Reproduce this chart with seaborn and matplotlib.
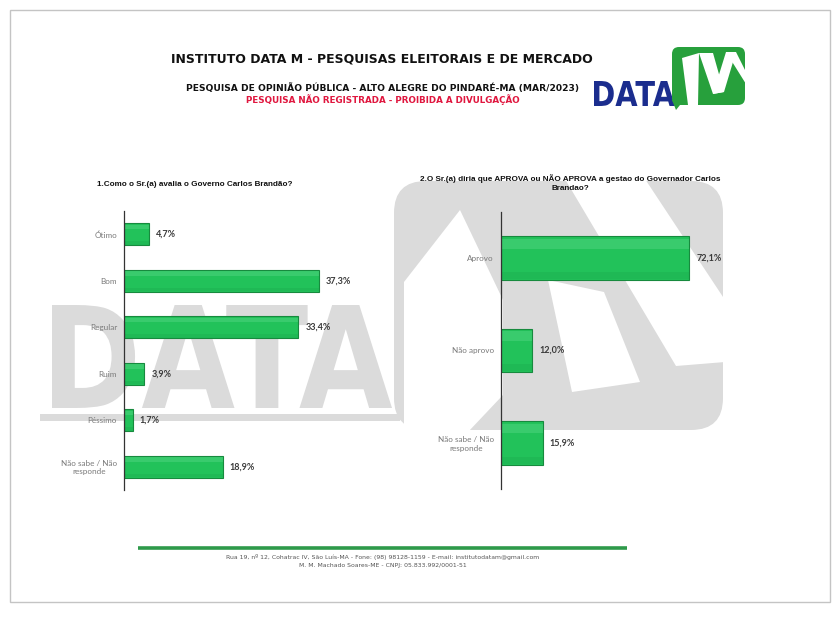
# Pesquisa Data M - Alto Alegre do Pindaré (mar/2023)
# two horizontal bar charts on one report page

import numpy as np
import pandas as pd
import matplotlib
matplotlib.use('Agg')
import matplotlib.pyplot as plt
from matplotlib.patches import Rectangle, FancyBboxPatch, Polygon, PathPatch
from matplotlib.textpath import TextPath
from matplotlib.font_manager import FontProperties
from matplotlib.transforms import Affine2D
import seaborn as sns

# data
q1_categorias = ['Ótimo', 'Bom', 'Regular', 'Ruim', 'Péssimo', 'Não sabe / Não\nresponde']
q1_valores = [4.7, 37.3, 33.4, 3.9, 1.7, 18.9]

q2_categorias = ['Aprovo', 'Não aprovo', 'Não sabe / Não\nresponde']
q2_valores = [72.1, 12.0, 15.9]

titulo1 = 'INSTITUTO DATA M - PESQUISAS ELEITORAIS E DE MERCADO'
titulo2 = 'PESQUISA DE OPINIÃO PÚBLICA - ALTO ALEGRE DO PINDARÉ-MA (MAR/2023)'
titulo3 = 'PESQUISA NÃO REGISTRADA - PROIBIDA A DIVULGAÇÃO'
pergunta1 = '1.Como o Sr.(a) avalia o Governo Carlos Brandão?'
pergunta2 = '2.O Sr.(a) diria que APROVA ou NÃO APROVA a gestao do Governador Carlos\nBrandao?'
rodape = ('Rua 19, nº 12, Cohatrac IV, São Luís-MA - Fone: (98) 98128-1159 - E-mail: institutodatam@gmail.com\n'
          'M. M. Machado Soares-ME - CNPJ: 05.833.992/0001-51')

VERDE = '#22c25a'
VERDE_CLARO = '#6fe09a'
VERDE_ESCURO = '#1aa94d'
VERDE_BORDA = '#178a3e'
CINZA_MARCA = '#dbdbdb'

sns.set_theme(style='white')
plt.rcParams['font.family'] = ['DejaVu Sans']

W, H = 840, 618
fig = plt.figure(figsize=(8.4, 6.18), dpi=100)
fig.patch.set_facecolor('white')

# background axes in pixel coords (y down) for the page decoration
bg = fig.add_axes([0, 0, 1, 1], zorder=0)
bg.set_xlim(0, W)
bg.set_ylim(H, 0)
bg.axis('off')


def fit_text(ax, s, x0, y0, x1, y1, color, weight='bold', family='DejaVu Sans'):
    # text path stretched into a pixel box
    tp = TextPath((0, 0), s, size=100, prop=FontProperties(family=family, weight=weight))
    bb = tp.get_extents()
    sx = (x1 - x0) / bb.width
    sy = (y1 - y0) / bb.height
    tr = Affine2D().translate(-bb.x0, -bb.y0).scale(sx, -sy).translate(x0, y1)
    ax.add_patch(PathPatch(tr.transform_path(tp), facecolor=color, edgecolor='none'))


def branco(pts):
    bg.add_patch(Polygon(pts, facecolor='white', edgecolor='none'))


# page border
bg.add_patch(Rectangle((10, 10), 820, 592, fill=False, edgecolor='#c4c4c4', lw=1))

# watermark: big grey DATA + M block
fit_text(bg, 'DATA', 52, 305, 392, 408, CINZA_MARCA)
bg.add_patch(Rectangle((40, 414), 360, 7, facecolor=CINZA_MARCA, edgecolor='none'))
bg.add_patch(FancyBboxPatch((394, 181), 329, 249, boxstyle='round,pad=0,rounding_size=32',
                            facecolor=CINZA_MARCA, edgecolor='none'))
branco([(404, 282), (460, 210), (503, 300), (503, 395), (468, 432), (404, 432)])
branco([(565, 179), (645, 179), (725, 300), (725, 362), (676, 366)])
branco([(548, 280), (604, 292), (640, 382), (572, 392)])

# header
bg.text(382, 59, titulo1, ha='center', va='center', fontsize=9, fontweight='bold', color='#111111')
bg.text(382, 88, titulo2, ha='center', va='center', fontsize=6.6, fontweight='bold', color='#111111')
bg.text(383, 100, titulo3, ha='center', va='center', fontsize=6.3, fontweight='bold', color='#e0173f')

# logo
fit_text(bg, 'DATA', 594, 81, 675, 106, '#1b2d8e')
bg.add_patch(FancyBboxPatch((672, 47), 73, 58, boxstyle='round,pad=0,rounding_size=7',
                            facecolor='#27a03c', edgecolor='none'))
bg.add_patch(Polygon([(672, 100), (684, 100), (676, 110)], facecolor='#27a03c', edgecolor='none'))
branco([(682, 58), (699, 53), (698, 105), (688, 105)])
branco([(699, 53), (713, 53), (724, 92), (713, 94)])
branco([(713, 94), (724, 92), (736, 52), (726, 52)])
branco([(726, 52), (736, 52), (746, 72), (746, 84)])

# footer
bg.plot([138, 627], [548, 548], color='#2e9a4a', lw=2.6, solid_capstyle='butt')
bg.text(383, 561, rodape, ha='center', va='center', fontsize=4.4, color='#555555', linespacing=1.5)


def grafico(rect, categorias, valores, xmax, titulo, titulo_xy):
    ax = fig.add_axes(rect, zorder=2)
    ax.patch.set_alpha(0)
    df = pd.DataFrame({'cat': categorias, 'val': valores})
    sns.barplot(data=df, x='val', y='cat', orient='h', ax=ax, color=VERDE,
                edgecolor=VERDE_BORDA, linewidth=0.8, width=0.47, saturation=1)
    # soft gloss: light strip on top, slightly darker at the bottom of each bar
    for p in list(ax.patches):
        x0, y0, w, h = p.get_x(), p.get_y(), p.get_width(), p.get_height()
        ax.add_patch(Rectangle((x0, y0 + 0.06 * h), w, 0.22 * h, facecolor=VERDE_CLARO,
                               edgecolor='none', alpha=0.3, zorder=p.get_zorder() + 0.1))
        ax.add_patch(Rectangle((x0, y0 + 0.82 * h), w, 0.16 * h, facecolor=VERDE_ESCURO,
                               edgecolor='none', alpha=0.35, zorder=p.get_zorder() + 0.1))
    ax.set_xlim(0, xmax)
    ax.set_ylim(len(categorias) - 0.5, -0.5)
    ax.set_xticks([])
    ax.set_xlabel('')
    ax.set_ylabel('')
    for s in ['top', 'right', 'bottom']:
        ax.spines[s].set_visible(False)
    ax.spines['left'].set_color('#333333')
    ax.spines['left'].set_linewidth(0.9)
    ax.set_yticks(np.arange(-0.5, len(categorias), 1), minor=True)
    ax.tick_params(axis='y', which='major', length=0, pad=5, labelsize=5.9, labelcolor='#7a7a7a')
    ax.tick_params(axis='y', which='minor', length=3, width=0.8, color='#333333', direction='out')
    for lbl in ax.get_yticklabels():
        lbl.set_multialignment('center')
        lbl.set_family('Lato')
    rotulos = [f'{v:.1f}'.replace('.', ',') + '%' for v in valores]
    ax.bar_label(ax.containers[0], labels=rotulos, padding=5, fontsize=6.5,
                 fontweight='bold', color='#3a3a3a', family='Lato')
    bg.text(titulo_xy[0], titulo_xy[1], titulo, ha='center', va='center', fontsize=5.9,
            fontweight='bold', color='#111111', family='Liberation Sans', linespacing=1.3)
    return ax


ax1 = grafico([124 / W, 1 - 490 / H, 256 / W, 279 / H], q1_categorias, q1_valores, 49.0,
              pergunta1, (195, 184))
ax2 = grafico([501 / W, 1 - 489 / H, 239 / W, 277 / H], q2_categorias, q2_valores, 91.5,
              pergunta2, (570, 183))

fig.savefig('out.png', dpi=100)
